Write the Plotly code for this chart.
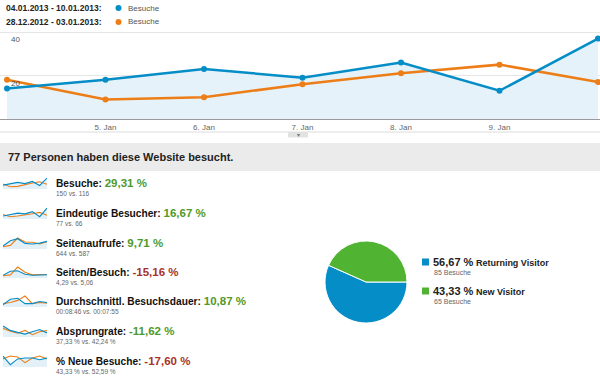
import plotly.graph_objects as go

# ---------------- data ----------------
days = [4, 5, 6, 7, 8, 9, 10]
tick_days = [5, 6, 7, 8, 9]
tick_labels = ["5. Jan", "6. Jan", "7. Jan", "8. Jan", "9. Jan"]
y_ticks = [20, 40]

range_cur = "04.01.2013 - 10.01.2013:"
range_prev = "28.12.2012 - 03.01.2013:"
series_name = "Besuche"

visits_cur = [14, 18, 23, 19, 26, 13, 37]
visits_prev = [18, 9, 10, 16, 21, 25, 17]

headline = "77 Personen haben diese Website besucht."

metric_names = ["Besuche", "Eindeutige Besucher", "Seitenaufrufe", "Seiten/Besuch",
                "Durchschnittl. Besuchsdauer", "Absprungrate", "% Neue Besuche"]
metric_change = ["29,31 %", "16,67 %", "9,71 %", "-15,16 %", "10,87 %", "-11,62 %", "-17,60 %"]
metric_good = [True, True, True, False, True, True, False]
metric_compare = ["150 vs. 116", "77 vs. 66", "644 vs. 587", "4,29 vs. 5,06",
                  "00:08:46 vs. 00:07:55", "37,33 % vs. 42,24 %", "43,33 % vs. 52,59 %"]

spark_cur = [
    visits_cur,
    [9, 11, 13, 12, 15, 8, 20],
    [40, 80, 95, 60, 55, 62, 75],
    [3.0, 5.0, 5.2, 3.5, 3.0, 3.3, 3.3],
    [3, 8, 9, 4, 4, 6, 5],
    [60, 45, 38, 32, 40, 48, 36],
    [55, 25, 45, 48, 48, 42, 48],
]
spark_prev = [
    visits_prev,
    [11, 8, 9, 10, 12, 14, 10],
    [35, 45, 100, 70, 68, 55, 72],
    [2.8, 3.2, 7.0, 4.5, 3.2, 3.2, 3.4],
    [4, 5, 7, 11, 4, 5, 4.5],
    [52, 42, 35, 45, 30, 40, 44],
    [45, 55, 52, 32, 48, 55, 45],
]

visitor_types = ["Returning Visitor", "New Visitor"]
visitor_visits = [85, 65]

# ---------------- styling ----------------
W, H = 600, 377
FONT = "Liberation Sans, Arial, sans-serif"
BLUE = "#058dc7"
ORANGE = "#ed7e17"
GREEN_PIE = "#50b432"
GOOD = "#4e9a2a"
BAD = "#a8322a"


def px(x):
    return x / W


def py(y):
    return 1 - y / H


fig = go.Figure()
annotations = []
shapes = []

# ---------------- main chart ----------------
fig.add_trace(go.Scatter(x=days, y=visits_cur, mode="lines", line=dict(width=0, color=BLUE),
                         fill="tozeroy", fillcolor="#e6f2f9", hoverinfo="skip",
                         xaxis="x", yaxis="y", showlegend=False))
fig.add_trace(go.Scatter(x=days, y=visits_prev, mode="lines+markers",
                         line=dict(width=2.5, color=ORANGE), marker=dict(size=6, color=ORANGE),
                         xaxis="x", yaxis="y", showlegend=False, cliponaxis=False))
fig.add_trace(go.Scatter(x=days, y=visits_cur, mode="lines+markers",
                         line=dict(width=2.5, color=BLUE), marker=dict(size=6, color=BLUE),
                         xaxis="x", yaxis="y", showlegend=False, cliponaxis=False))

layout_axes = {}
x0_px, step = 7.0, 98.5
layout_axes["xaxis"] = dict(
    domain=[0, 1], range=[4 - x0_px / step, 4 + (W - x0_px) / step],
    tickvals=tick_days, ticktext=tick_labels, showgrid=False, zeroline=False,
    showline=True, linecolor="#9a9a9a", linewidth=1, ticks="",
    tickfont=dict(size=8, color="#666", family=FONT), anchor="y", fixedrange=True)
layout_axes["yaxis"] = dict(
    domain=[py(119), py(30)], range=[0, 40 * 89 / 87], tickvals=y_ticks,
    showticklabels=False, showgrid=True, gridcolor="#e6e6e6", zeroline=False,
    anchor="x", fixedrange=True)
for t in y_ticks:
    annotations.append(dict(x=px(9), xref="paper", y=t, yref="y", text=str(t),
                            showarrow=False, xanchor="left", yanchor="top", yshift=-1,
                            font=dict(size=8, color="#555", family=FONT)))

# top legend
for i, (lab, col) in enumerate([(range_cur, BLUE), (range_prev, ORANGE)]):
    yy = 8 + i * 14
    annotations.append(dict(x=px(4), y=py(yy), xref="paper", yref="paper", text="<b>" + lab + "</b>",
                            showarrow=False, xanchor="left", yanchor="middle",
                            font=dict(size=8.5, color="#222", family=FONT)))
    shapes.append(dict(type="circle", xref="paper", yref="paper",
                       x0=px(115.5), x1=px(121.5), y0=py(yy - 3), y1=py(yy + 3),
                       fillcolor=col, line=dict(width=0)))
    annotations.append(dict(x=px(126), y=py(yy), xref="paper", yref="paper", text=series_name,
                            showarrow=False, xanchor="left", yanchor="middle",
                            font=dict(size=8, color="#555", family=FONT)))

# separator and handle under the chart
shapes.append(dict(type="line", xref="paper", yref="paper", x0=0, x1=1, y0=py(132), y1=py(132),
                   line=dict(color="#dcdcdc", width=1)))
shapes.append(dict(type="rect", xref="paper", yref="paper", x0=px(288), x1=px(308),
                   y0=py(137.5), y1=py(132), fillcolor="#e2e2e2", line=dict(width=0)))
annotations.append(dict(x=px(298), y=py(134.5), xref="paper", yref="paper", text="▾",
                        showarrow=False, font=dict(size=6, color="#777", family=FONT)))

# headline bar
shapes.append(dict(type="rect", xref="paper", yref="paper", x0=0, x1=1, y0=py(171), y1=py(143),
                   fillcolor="#ebebeb", line=dict(width=0), layer="below"))
annotations.append(dict(x=px(6), y=py(157), xref="paper", yref="paper", text="<b>" + headline + "</b>",
                        showarrow=False, xanchor="left", yanchor="middle",
                        font=dict(size=11, color="#222", family=FONT)))

# ---------------- metrics with sparklines ----------------
row_y = [183, 213, 243, 272, 301, 331, 361]
for i, name in enumerate(metric_names):
    ty = row_y[i]
    ax = i + 2
    cur, prev = spark_cur[i], spark_prev[i]
    lo = min(cur + prev)
    hi = max(cur + prev)
    pad = (hi - lo) * 0.12
    fig.add_trace(go.Scatter(x=days, y=cur, mode="lines", line=dict(width=0, color=BLUE),
                             fill="tozeroy", fillcolor="#e3f0f8", hoverinfo="skip",
                             xaxis="x%d" % ax, yaxis="y%d" % ax, showlegend=False))
    fig.add_trace(go.Scatter(x=days, y=prev, mode="lines", line=dict(width=1.1, color=ORANGE),
                             xaxis="x%d" % ax, yaxis="y%d" % ax, showlegend=False))
    fig.add_trace(go.Scatter(x=days, y=cur, mode="lines", line=dict(width=1.1, color=BLUE),
                             xaxis="x%d" % ax, yaxis="y%d" % ax, showlegend=False))
    layout_axes["xaxis%d" % ax] = dict(domain=[px(3), px(47)], range=[4, 10], visible=False,
                                       anchor="y%d" % ax, fixedrange=True)
    layout_axes["yaxis%d" % ax] = dict(domain=[py(ty + 6), py(ty - 6)], range=[lo - pad * 2.2, hi + pad],
                                       visible=False, anchor="x%d" % ax, fixedrange=True)
    col = GOOD if metric_good[i] else BAD
    annotations.append(dict(
        x=px(54), y=py(ty), xref="paper", yref="paper",
        text="<b>%s: <span style='color:%s;font-size:11.5px'>%s</span></b>" % (name, col, metric_change[i]),
        showarrow=False, xanchor="left", yanchor="middle",
        font=dict(size=10.2, color="#111", family=FONT)))
    annotations.append(dict(
        x=px(54), y=py(ty + 10.5), xref="paper", yref="paper", text=metric_compare[i],
        showarrow=False, xanchor="left", yanchor="middle",
        font=dict(size=6.5, color="#666", family=FONT)))

# ---------------- pie ----------------
pie_colors = [BLUE, GREEN_PIE]
fig.add_trace(go.Pie(labels=visitor_types, values=visitor_visits, sort=False, direction="clockwise",
                     rotation=90, textinfo="none", hoverinfo="label+percent",
                     marker=dict(colors=pie_colors, line=dict(color="white", width=1)),
                     domain=dict(x=[px(325), px(407)], y=[py(323), py(241)]), showlegend=False))

total = sum(visitor_visits)
leg_y = [262, 291]
for i, lab in enumerate(visitor_types):
    pct = ("%.2f" % (100 * visitor_visits[i] / total)).replace(".", ",")
    yy = leg_y[i]
    shapes.append(dict(type="rect", xref="paper", yref="paper", x0=px(422), x1=px(429),
                       y0=py(yy + 3.5), y1=py(yy - 3.5), fillcolor=pie_colors[i], line=dict(width=0)))
    annotations.append(dict(
        x=px(431), y=py(yy), xref="paper", yref="paper",
        text="<b><span style='font-size:11px'>%s %%</span> %s</b>" % (pct, lab),
        showarrow=False, xanchor="left", yanchor="middle",
        font=dict(size=9, color="#222", family=FONT)))
    annotations.append(dict(
        x=px(432), y=py(yy + 10.5), xref="paper", yref="paper", text="%d Besuche" % visitor_visits[i],
        showarrow=False, xanchor="left", yanchor="middle",
        font=dict(size=7, color="#666", family=FONT)))

fig.update_layout(
    width=W, height=H, margin=dict(l=0, r=0, t=0, b=0),
    paper_bgcolor="white", plot_bgcolor="rgba(0,0,0,0)",
    annotations=annotations, shapes=shapes, font=dict(family=FONT),
    **layout_axes)

fig.write_html("out.html", config={"displayModeBar": False},
               post_script="document.body.style.margin='0';document.body.style.padding='0';document.body.style.overflow='hidden';")
